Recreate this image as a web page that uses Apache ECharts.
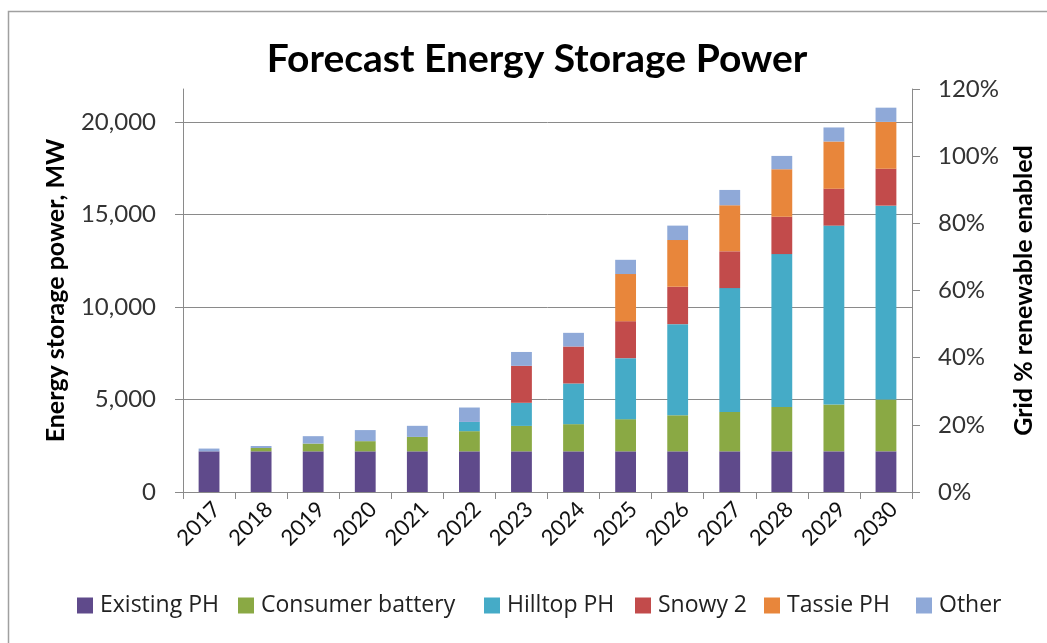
<!DOCTYPE html>
<html>
<head>
<meta charset="utf-8">
<script src="https://cdn.jsdelivr.net/npm/echarts@6/dist/echarts.min.js"></script>
<style>
  html, body { margin: 0; padding: 0; background: #ffffff; }
  #chart { width: 1047px; height: 643px; }
</style>
</head>
<body>
<div id="chart"></div>
<script>
// Forecast installed storage power by source, MW
const years = ['2017','2018','2019','2020','2021','2022','2023','2024','2025','2026','2027','2028','2029','2030'];
const existingPH      = [2200, 2200, 2200, 2200, 2200, 2200, 2200, 2200, 2200, 2200, 2200, 2200, 2200, 2200];
const consumerBattery = [0, 180, 420, 550, 780, 1090, 1375, 1470, 1740, 1950, 2130, 2400, 2530, 2800];
const hilltopPH       = [0, 0, 0, 0, 0, 500, 1250, 2200, 3300, 4930, 6700, 8270, 9680, 10490];
const snowy2          = [0, 0, 0, 0, 0, 0, 2000, 2000, 2000, 2020, 1990, 2020, 2000, 2000];
const tassiePH        = [0, 0, 0, 0, 0, 0, 0, 0, 2550, 2530, 2490, 2570, 2550, 2530];
const other           = [150, 110, 400, 600, 600, 780, 750, 740, 770, 780, 830, 720, 760, 770];

const seriesNames = ['Existing PH', 'Consumer battery', 'Hilltop PH', 'Snowy 2', 'Tassie PH', 'Other'];
const seriesData  = [existingPH, consumerBattery, hilltopPH, snowy2, tassiePH, other];
const colors = ['#5f4a8b', '#8aa944', '#45abc7', '#c24b4b', '#e8863b', '#8fa9d8'];

// left edge of each legend entry along the bottom row
const legendLefts = [77, 238, 484, 635, 764, 916];

const FONT = 'Lato, "Open Sans", sans-serif';
const LEGEND_FONT = '"Open Sans", Lato, sans-serif';
const AXIS_GREY = '#8a8a8a';

const chart = echarts.init(document.getElementById('chart'), null, { renderer: 'canvas' });

chart.setOption({
  backgroundColor: '#ffffff',
  animation: false,
  color: colors,
  title: {
    text: 'Forecast Energy Storage Power',
    left: 532,
    top: 35,
    textAlign: 'center',
    textStyle: { fontFamily: FONT, fontSize: 39, fontWeight: 'bold', color: '#000000' }
  },
  graphic: [{
    type: 'rect',
    shape: { x: 8.5, y: 11.5, width: 1100, height: 700 },
    style: { fill: 'none', stroke: '#a0a0a0', lineWidth: 1.5 },
    silent: true
  }],
  legend: seriesNames.map((name, i) => ({
    data: [name],
    left: legendLefts[i],
    top: 594,
    padding: 0,
    itemWidth: 16,
    itemHeight: 16,
    icon: 'rect',
    textStyle: { fontFamily: LEGEND_FONT, fontSize: 23, color: '#222222', padding: [0, 0, 0, 2] }
  })),
  grid: { left: 183, right: 135, top: 89, bottom: 151 },
  xAxis: {
    type: 'category',
    data: years,
    boundaryGap: true,
    axisLine: { lineStyle: { color: AXIS_GREY, width: 1 } },
    axisTick: { show: true, alignWithLabel: false, length: 7, lineStyle: { color: AXIS_GREY } },
    axisLabel: {
      rotate: 45,
      margin: 6,
      verticalAlign: 'top',
      fontFamily: FONT,
      fontSize: 22,
      color: '#111111'
    },
    splitLine: { show: false }
  },
  yAxis: [{
    type: 'value',
    min: 0,
    max: 21800,
    interval: 5000,
    name: 'Energy storage power, MW',
    nameLocation: 'middle',
    nameRotate: 90,
    nameGap: 115,
    nameTextStyle: { fontFamily: FONT, fontSize: 25, fontWeight: 'bold', color: '#000000' },
    axisLine: { show: true, lineStyle: { color: AXIS_GREY, width: 1 } },
    axisTick: { show: true, length: 8, lineStyle: { color: AXIS_GREY } },
    axisLabel: {
      margin: 27,
      fontFamily: FONT,
      fontSize: 24,
      color: '#333333',
      showMaxLabel: false,
      formatter: v => v.toLocaleString('en-US')
    },
    splitLine: { show: true, showMaxLine: false, lineStyle: { color: AXIS_GREY, width: 1 } }
  }, {
    type: 'value',
    position: 'right',
    min: 0,
    max: 1.2,
    interval: 0.2,
    name: 'Grid % renewable enabled',
    nameLocation: 'middle',
    nameRotate: 90,
    nameGap: 99,
    nameTextStyle: { fontFamily: FONT, fontSize: 25, fontWeight: 'bold', color: '#000000' },
    axisLine: { show: true, lineStyle: { color: AXIS_GREY, width: 1 } },
    axisTick: { show: true, length: 8, lineStyle: { color: AXIS_GREY } },
    axisLabel: {
      margin: 26,
      fontFamily: FONT,
      fontSize: 24,
      color: '#333333',
      formatter: v => Math.round(v * 100) + '%'
    },
    splitLine: { show: false }
  }],
  series: seriesNames.map((name, i) => ({
    name: name,
    type: 'bar',
    stack: 'power',
    yAxisIndex: 0,
    barWidth: '40%',
    data: seriesData[i],
    itemStyle: { color: colors[i] }
  }))
});
</script>
</body>
</html>
